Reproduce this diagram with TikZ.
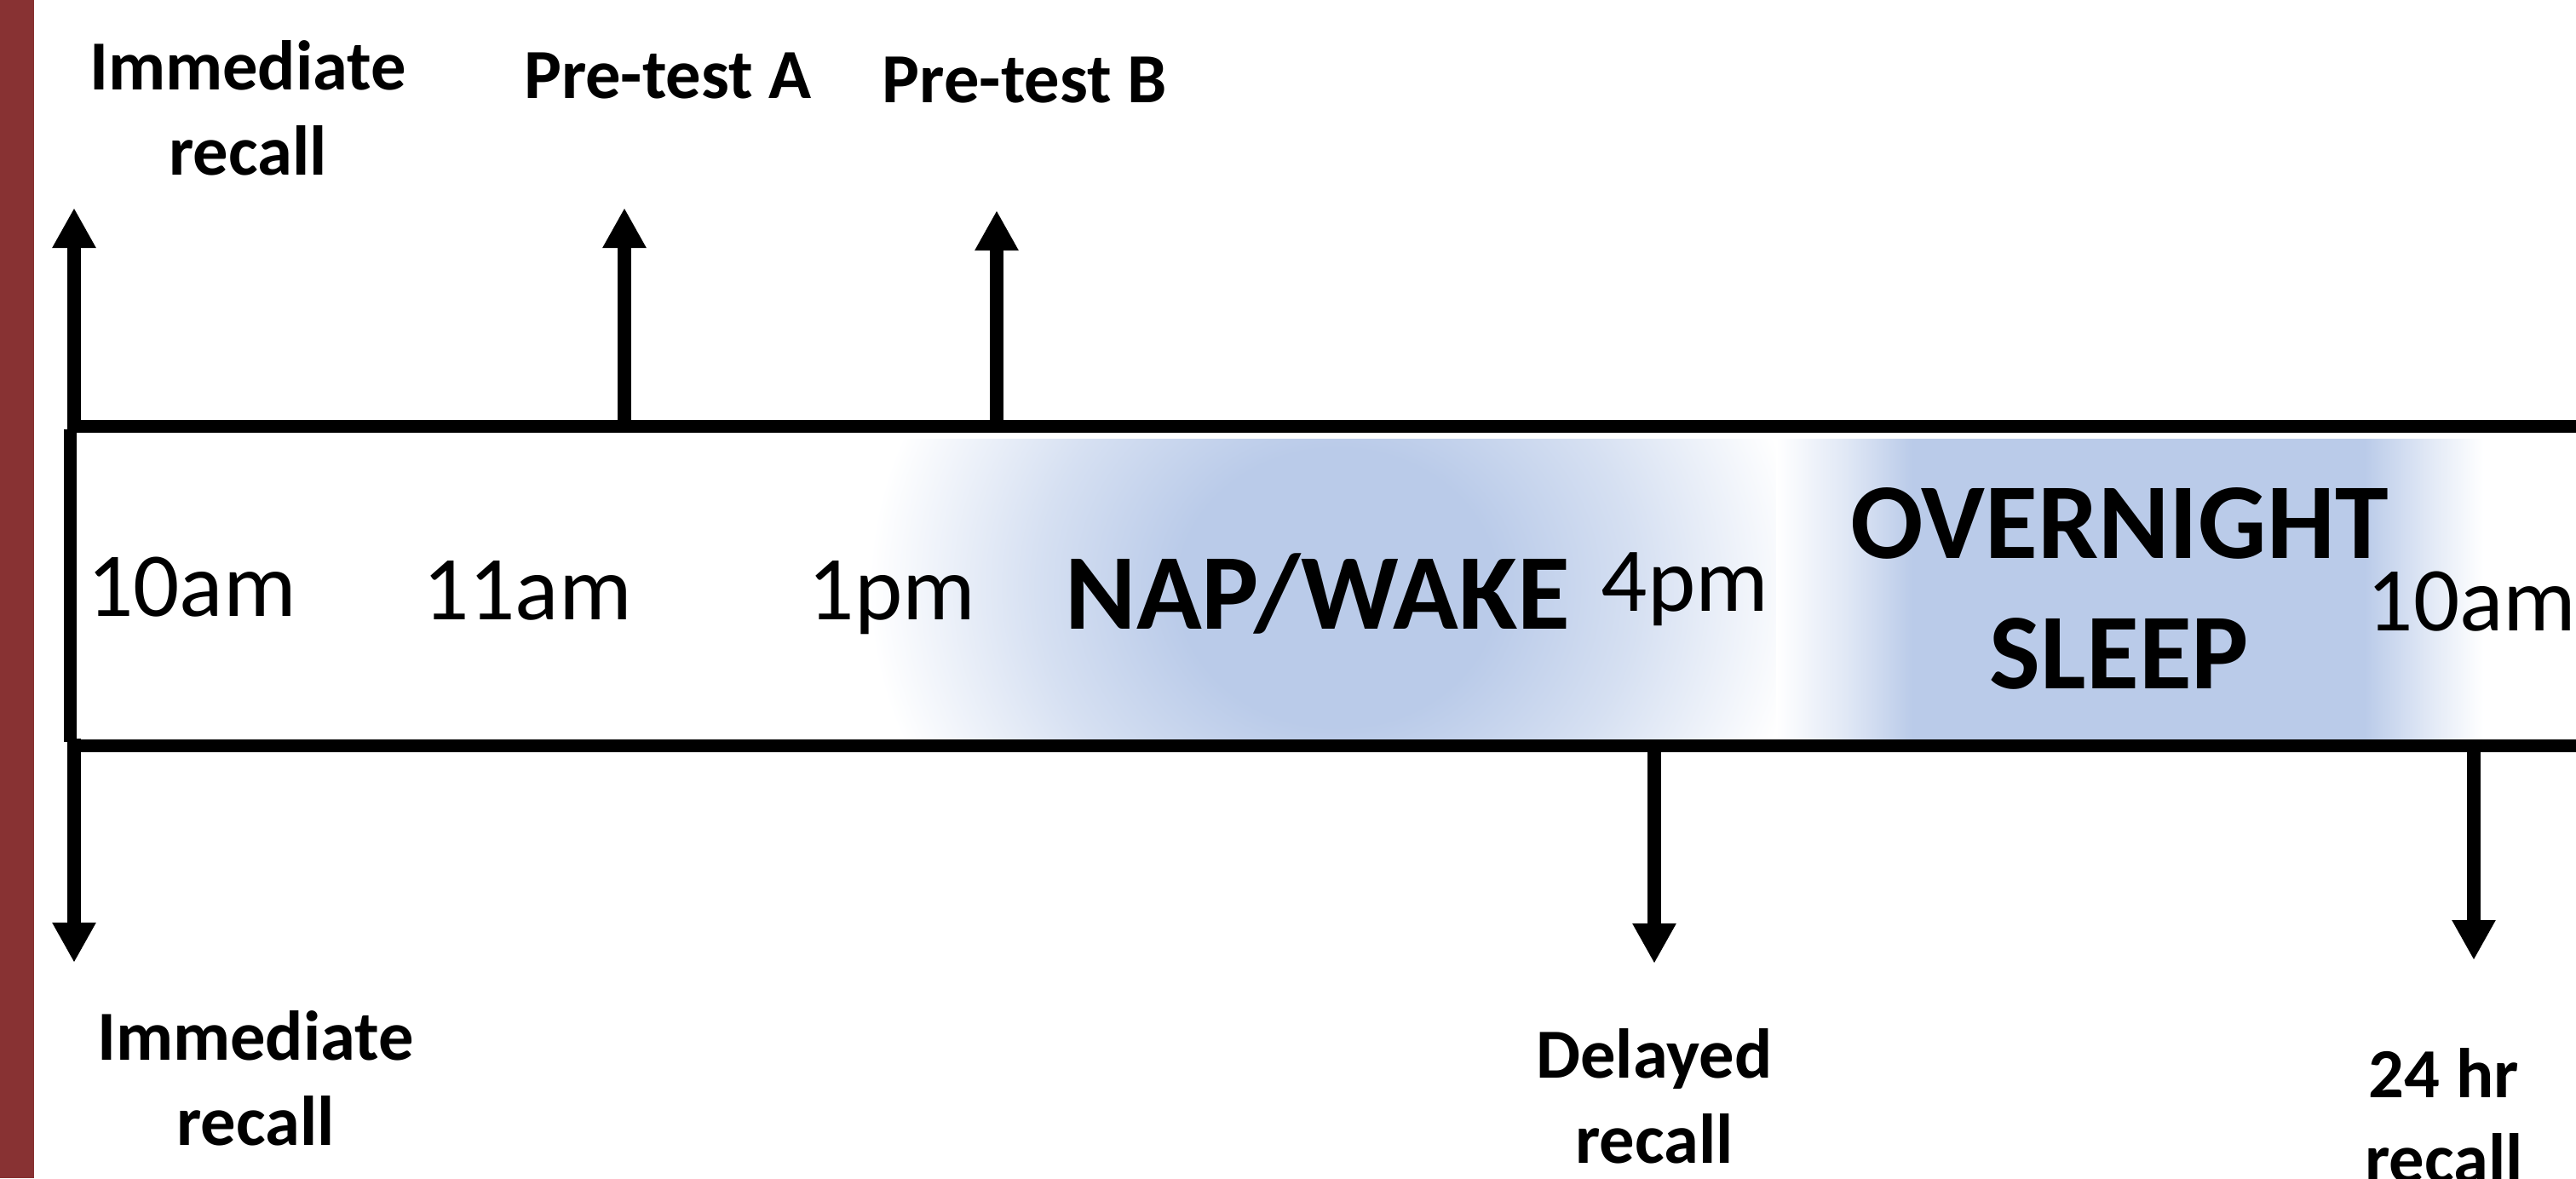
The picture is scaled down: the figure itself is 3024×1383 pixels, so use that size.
\documentclass[tikz,border=0pt]{standalone}
\usepackage{fontspec}
\setmainfont{Carlito}
\usetikzlibrary{arrows.meta}
\definecolor{sleepblue}{RGB}{186,203,233}
\definecolor{barred}{RGB}{136,50,51}
\pgfdeclareradialshading{napshade}{\pgfpoint{0bp}{0bp}}{color(0bp)=(sleepblue); color(8.5bp)=(sleepblue); color(16bp)=(sleepblue!60!white); color(25bp)=(white); color(50bp)=(white)}
\pgfdeclarehorizontalshading{sleepshade}{100bp}{color(0bp)=(white); color(25bp)=(white); color(30bp)=(sleepblue!45!white); color(34.6bp)=(sleepblue); color(66.6bp)=(sleepblue); color(71bp)=(sleepblue!45!white); color(75bp)=(white); color(100bp)=(white)}
\begin{document}
\begin{tikzpicture}[x=0.1mm,y=-0.1mm,
  axisline/.style={line width=1.5mm, line cap=butt},
  arr/.style={line width=1.55mm, line cap=butt, -{Triangle[length=4.7mm,width=4.8mm]}},
  lbl/.style={font=\bfseries\fontsize{23.5}{28.5}\selectfont, align=center, inner sep=0pt, anchor=south},
  tim/.style={font=\fontsize{30.5}{36}\selectfont, inner sep=0pt, anchor=base},
  big/.style={font=\bfseries\fontsize{36}{43.5}\selectfont, inner sep=0pt, align=center}]
\useasboundingbox (0,0) rectangle (3024,1383);
\fill[white] (0,0) rectangle (3024,1383);
\fill[barred] (0,0) rectangle (40,1383);
% shaded periods
\begin{scope}
  \clip (90,515) rectangle (3024,867);
  \shade[shading=napshade] (1570,690) ellipse [x radius=55mm, y radius=48mm];
\end{scope}
\shade[shading=sleepshade] (2085,515) rectangle (2915,867);
% timeline box
\coordinate (tl) at (79,500);
\coordinate (tr) at (3030,500);
\coordinate (bl) at (79,875);
\coordinate (br) at (3030,875);
\coordinate (el0) at (82,504);
\coordinate (el1) at (82,871);
\draw[axisline] (tl) -- (tr);
\draw[axisline] (bl) -- (br);
\draw[axisline] (el0) -- (el1);
% arrow anchors
\coordinate (uL0) at (87,508);  \coordinate (uL1) at (87,244);
\coordinate (uA0) at (733,500); \coordinate (uA1) at (733,244);
\coordinate (uB0) at (1170,500); \coordinate (uB1) at (1170,247);
\coordinate (dL0) at (87,867);  \coordinate (dL1) at (87,1130);
\coordinate (dD0) at (1942,875); \coordinate (dD1) at (1942,1131);
\coordinate (dH0) at (2904,875); \coordinate (dH1) at (2904,1127);
\draw[arr] (uL0) -- (uL1);
\draw[arr] (uA0) -- (uA1);
\draw[arr] (uB0) -- (uB1);
\draw[arr] (dL0) -- (dL1);
\draw[arr] (dD0) -- (dD1);
\draw[arr] (dH0) -- (dH1);
% labels
\node[lbl] (imtop) at (291,207) {Immediate\\recall};
\node[lbl] (pta) at (784,117) {Pre-test A};
\node[lbl] (ptb) at (1203,122) {Pre-test B};
\node[lbl] (imbot) at (300,1346) {Immediate\\recall};
\node[lbl] (del) at (1942,1367) {Delayed\\recall};
\node[lbl] (hr) at (2869,1390) {24 hr\\recall};
% times
\node[tim] (t10) at (225,723) {10am};
\node[tim] (t11) at (619,727) {11am};
\node[tim] (t1) at (1047,727) {1pm};
\node[tim] (t4) at (1978,717) {4pm};
\node[tim, anchor=base west] (t10b) at (2778,740) {10am};
\node[big, anchor=base] (nap) at (1547,738) {NAP/WAKE};
\node[big, anchor=south] (sleep) at (2488,810) {OVERNIGHT\\SLEEP};
\end{tikzpicture}
\end{document}
